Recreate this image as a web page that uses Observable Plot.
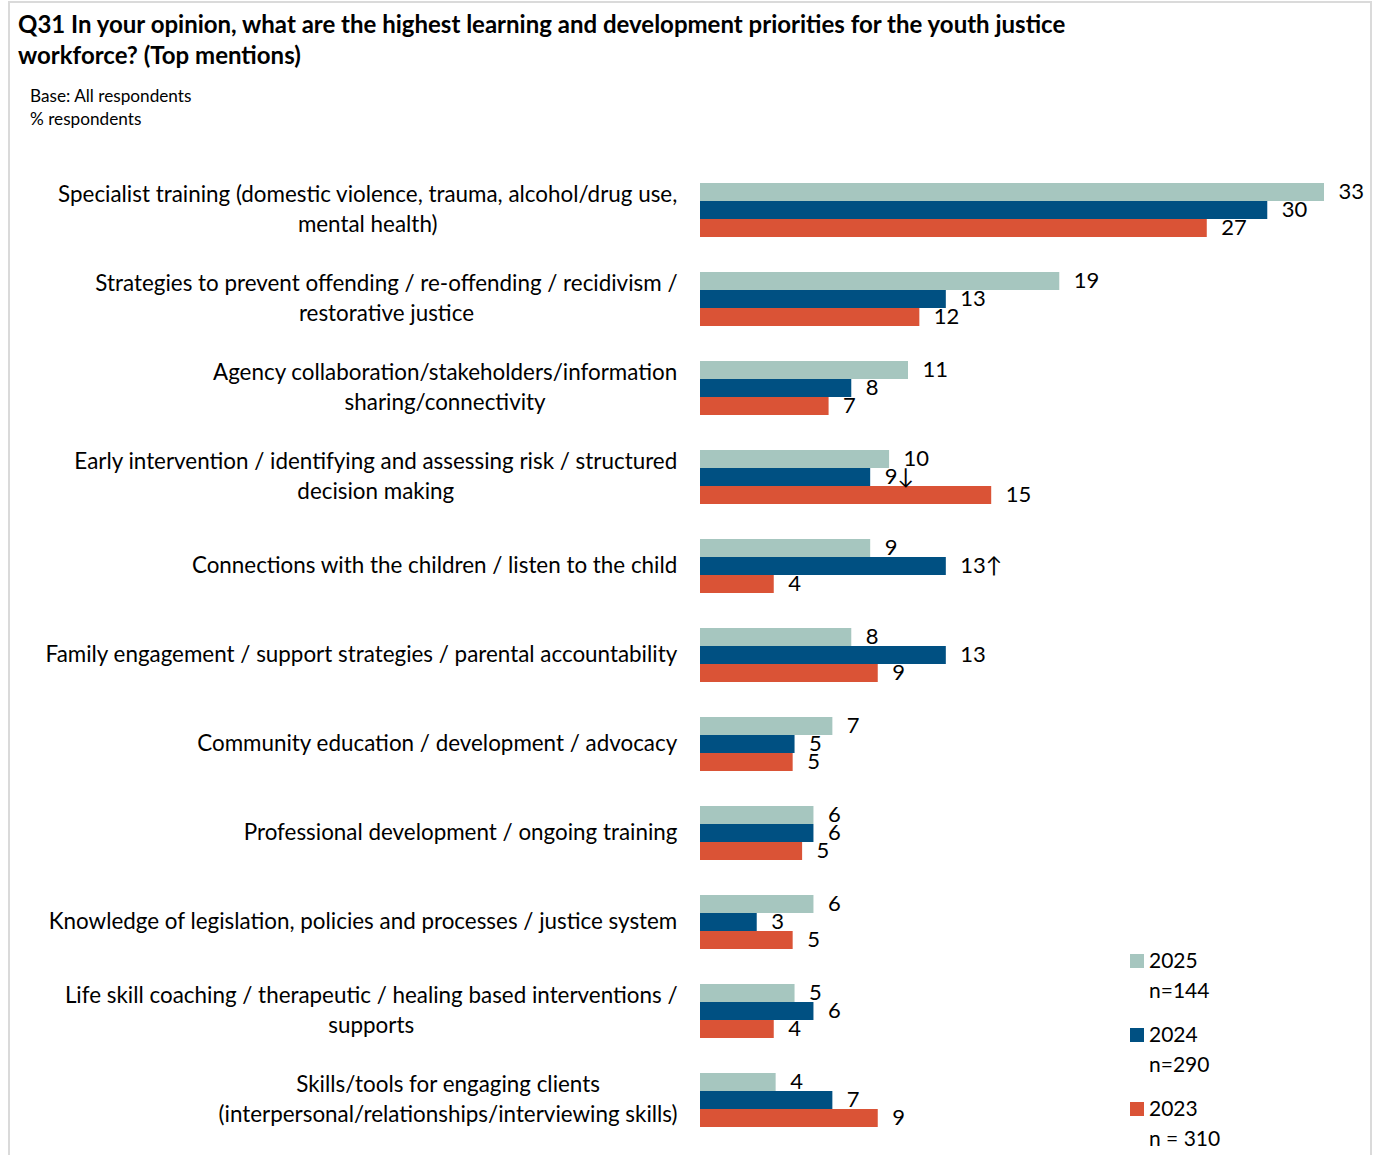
<!DOCTYPE html>
<html>
<head>
<meta charset="utf-8">
<script src="https://cdn.jsdelivr.net/npm/d3@7"></script>
<script src="https://cdn.jsdelivr.net/npm/@observablehq/plot@0.6"></script>
<style>
  html, body { margin: 0; padding: 0; background: #fff; }
  #wrap { position: relative; width: 1375px; height: 1155px; overflow: hidden; font-family: Lato, "Open Sans", sans-serif; color: #000; }
  #frame { position: absolute; left: 8px; top: 1px; width: 1364px; height: 1170px; border: 2px solid #dadada; box-sizing: border-box; }
  #title { position: absolute; left: 18px; top: 8px; font-weight: bold; font-size: 24px; line-height: 31px; white-space: nowrap; }
  #sub { position: absolute; left: 30px; top: 84px; font-size: 17.2px; line-height: 23px; white-space: nowrap; }
  #chart { position: absolute; left: 0; top: 140px; }
  #legend { position: absolute; left: 1130px; top: 945px; font-size: 21px; }
  .li { position: relative; height: 74px; }
  .sw { position: absolute; left: 0; top: 9px; width: 14px; height: 14px; }
  .lt { position: absolute; left: 19px; top: 0; line-height: 30px; white-space: nowrap; }
</style>
</head>
<body>
<div id="wrap">
  <div id="frame"></div>
  <div id="title">Q31 In your opinion, what are the highest learning and development priorities for the youth justice<br>workforce? (Top mentions)</div>
  <div id="sub">Base: All respondents<br>% respondents</div>
  <div id="chart"></div>
  <div id="legend"></div>
</div>
<script>
const categories = [
  "Specialist training (domestic violence, trauma, alcohol/drug use,\nmental health)",
  "Strategies to prevent offending / re-offending / recidivism /\nrestorative justice",
  "Agency collaboration/stakeholders/information\nsharing/connectivity",
  "Early intervention / identifying and assessing risk / structured\ndecision making",
  "Connections with the children / listen to the child",
  "Family engagement / support strategies / parental accountability",
  "Community education / development / advocacy",
  "Professional development / ongoing training",
  "Knowledge of legislation, policies and processes / justice system",
  "Life skill coaching / therapeutic / healing based interventions /\nsupports",
  "Skills/tools for engaging clients\n(interpersonal/relationships/interviewing skills)"
];
const years = ["2025", "2024", "2023"];
const sampleSizes = ["n=144", "n=290", "n = 310"];
const v2025 = [33, 19, 11, 10, 9, 8, 7, 6, 6, 5, 4];
const v2024 = [30, 13, 8, 9, 13, 13, 5, 6, 3, 6, 7];
const v2023 = [26.8, 11.6, 6.8, 15.4, 3.9, 9.4, 4.9, 5.4, 4.9, 3.9, 9.4];
const sig2024 = ["", "", "", "↓", "↑", "", "", "", "", "", ""];
const colors = ["#A6C6BF", "#005082", "#DA5336"];

const series = {"2025": v2025, "2024": v2024, "2023": v2023};
const data = [];
categories.forEach((c, i) => {
  years.forEach(y => {
    data.push({cat: c, year: y, value: series[y][i], sig: y === "2024" ? sig2024[i] : ""});
  });
});

const fontFamily = "Lato, 'Open Sans', sans-serif";
const labelSize = 22.4;
const ctx = document.createElement("canvas").getContext("2d");
ctx.font = `${labelSize}px Lato`;
const blockWidth = c => Math.max(...c.split("\n").map(s => ctx.measureText(s).width));

const labelMarks = categories.map(c => Plot.text([c], {
  fy: d => d, text: d => d,
  frameAnchor: "left", textAnchor: "middle",
  dx: -23 - blockWidth(c) / 2, dy: -3,
  lineHeight: 1.31, fontSize: labelSize, fill: "#000"
}));

const chart = Plot.plot({
  width: 1375,
  height: 1015,
  marginLeft: 700,
  marginRight: 51,
  marginTop: 24,
  marginBottom: 9,
  style: {fontFamily, fontSize: "22px", color: "#000", background: "transparent"},
  x: {domain: [0, 33], axis: null},
  y: {domain: years, padding: 0, axis: null},
  fy: {domain: categories, paddingInner: 0.372, paddingOuter: 0.186, axis: null},
  color: {domain: years, range: colors},
  marks: [
    Plot.barX(data, {fy: "cat", y: "year", x: "value", fill: "year"}),
    Plot.text(data, {
      fy: "cat", y: "year", x: "value",
      text: d => Math.round(d.value) + d.sig,
      textAnchor: "start", dx: 14, dy: -1, fontSize: 22, fill: "#000"
    }),
    ...labelMarks
  ]
});
document.getElementById("chart").appendChild(chart);

const legend = document.getElementById("legend");
years.forEach((y, i) => {
  const li = document.createElement("div");
  li.className = "li";
  li.innerHTML = `<div class="sw" style="background:${colors[i]}"></div><div class="lt">${y}<br>${sampleSizes[i]}</div>`;
  legend.appendChild(li);
});
</script>
</body>
</html>
